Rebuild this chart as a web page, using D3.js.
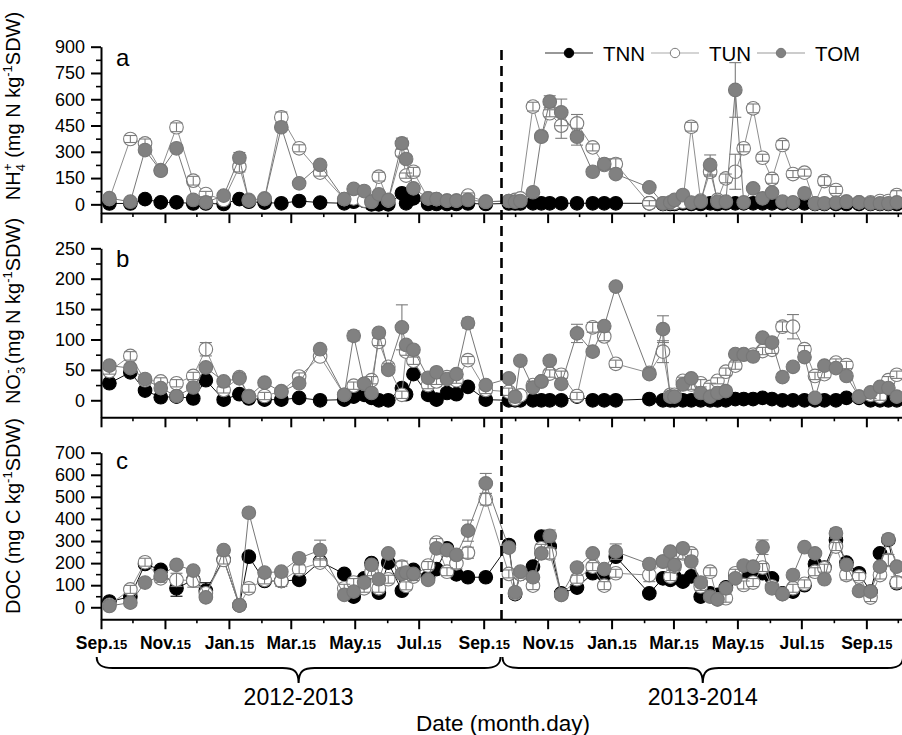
<!DOCTYPE html>
<html><head><meta charset="utf-8">
<script src="https://cdn.jsdelivr.net/npm/d3@7"></script>
<style>
body{margin:0;background:#fff}
svg{display:block}
text{font-family:"Liberation Sans",Arial,sans-serif;fill:#000}
</style></head><body>
<svg id="chart" width="902" height="735"></svg>
<script>
// ---------------- DATA ----------------
const sampleDates = [
"2012-09-23","2012-10-13","2012-10-27","2012-11-11","2012-11-26","2012-12-12","2012-12-24","2013-01-10","2013-01-25","2013-02-03","2013-02-18","2013-03-06","2013-03-23","2013-04-12","2013-05-05","2013-05-14","2013-05-24","2013-05-31","2013-06-07","2013-06-16","2013-06-29","2013-07-03","2013-07-10","2013-07-24","2013-08-01","2013-08-11","2013-08-20","2013-08-31","2013-09-17",
"2013-10-09","2013-10-15","2013-10-20","2013-11-01","2013-11-09","2013-11-17","2013-11-28","2013-12-13","2013-12-28","2014-01-08","2014-01-19","2014-02-20","2014-03-05","2014-03-12","2014-03-16","2014-03-24","2014-04-01","2014-04-10","2014-04-19","2014-04-26","2014-05-04","2014-05-13","2014-05-21","2014-05-30","2014-06-08","2014-06-17","2014-06-27","2014-07-07","2014-07-18","2014-07-28","2014-08-06","2014-08-17","2014-08-27","2014-09-08","2014-09-19","2014-09-28","2014-10-06","2014-10-14"];

const seriesNames = ["TNN","TUN","TOM"];

// (a) NH4+ (mg N kg-1 SDW)
const nh4TNN = [5,5,30,11,11,5,5,2,30,15,10,6,19,10,6,15,20,0,0,0,63,6,34,2,2,2,2,5,2,
  5,5,5,6,6,6,6,6,6,6,6,6,2,2,2,6,2,2,6,2,6,6,6,6,6,6,6,6,6,2,2,2,2,2,2,2,2,2];
const nh4TUN = [30,373,348,195,440,135,59,25,215,25,34,497,320,181,30,34,21,15,158,21,295,164,186,34,30,21,21,50,15,
  19,25,34,558,390,520,449,462,325,225,230,6,6,8,8,15,443,21,186,25,148,186,320,548,266,145,339,173,181,6,133,82,15,11,11,19,19,53];
const nh4TOM = [35,15,310,192,320,25,11,50,266,21,30,440,120,225,30,88,76,15,57,25,348,259,91,34,30,21,21,25,15,
  19,15,19,69,386,586,525,386,186,230,173,97,6,11,25,53,10,15,225,15,15,653,11,91,34,67,15,11,63,6,6,10,15,11,6,6,6,11];
const nh4ErrTNN = [];
const nh4ErrTUN = [[1,20],[2,25],[4,25],[5,25],[6,15],[8,30],[11,30],[12,20],[13,20],[18,25],[20,20],[21,15],[22,25],[27,15],[32,25],[33,20],[34,20],[35,72],[36,51],[37,20],[38,25],[39,30],[40,15],[45,25],[47,25],[49,25],[50,100],[51,20],[52,25],[53,20],[54,25],[55,25],[56,20],[57,20],[59,25],[60,20],[65,15],[66,25]];
const nh4ErrTOM = [[8,30],[20,30],[21,20],[33,20],[34,34],[35,76],[36,48],[38,30],[47,57],[50,156]];

// (b) NO3- (mg N kg-1 SDW)
const no3TNN = [28,46,16,5,6,3,33,1,10,3,1,1,4,0,1,6,9,4,0,0,20,10,43,9,1,12,10,22,1,
  0,0,0,0,0,0,0,6,0,0,0,2,0,0,0,0,0,0,0,0,0,2,2,2,4,2,0,0,0,0,0,0,4,4,0,0,0,0];
const no3TUN = [48,73,33,31,28,40,84,17,38,7,7,15,39,72,9,24,27,33,96,55,9,80,65,25,31,38,33,66,17,
  14,2,8,25,31,44,42,7,120,105,60,45,80,9,9,32,26,28,22,32,47,57,76,75,81,83,121,121,84,40,43,62,58,6,9,6,33,42];
const no3TOM = [57,53,35,20,7,21,54,31,36,6,29,14,28,84,9,106,27,12,111,50,120,91,83,37,46,35,43,127,25,
  36,6,65,21,31,65,27,110,80,122,187,43,117,6,6,26,36,12,6,12,15,76,75,72,103,95,38,55,71,4,57,53,40,6,13,22,20,6];
const no3ErrTNN = [];
const no3ErrTUN = [[0,5],[1,7],[2,4],[3,6],[4,6],[5,6],[6,11],[7,5],[8,6],[10,6],[11,6],[12,6],[15,6],[16,6],[17,6],[18,6],[19,6],[20,6],[21,6],[22,6],[23,6],[24,5],[25,5],[26,5],[27,6],[28,6],[29,6],[30,6],[32,6],[33,6],[34,6],[35,6],[36,6],[37,8],[38,7],[39,6],[40,6],[41,18],[44,6],[45,8],[46,6],[47,6],[48,5],[49,6],[50,6],[51,5],[52,5],[53,6],[54,6],[55,8],[56,20],[57,6],[58,6],[59,6],[60,6],[61,6],[62,5],[63,6],[64,6],[65,6],[66,6]];
const no3ErrTOM = [[15,8],[20,37],[27,8],[36,15],[41,22]];

// (c) DOC (mg C kg-1 SDW)
const docTNN = [26,48,196,169,86,124,75,216,9,229,119,119,124,207,151,48,131,200,66,202,75,127,169,136,173,267,149,136,136,
  282,60,151,184,320,275,63,89,154,146,229,63,131,124,139,116,140,48,63,56,90,139,139,146,154,131,63,71,100,196,180,305,202,154,71,244,305,109];
const docTUN = [11,81,204,131,124,121,63,214,9,86,124,119,172,202,86,112,86,161,86,127,184,97,139,189,293,161,199,247,489,
  151,63,150,98,267,244,56,127,184,98,154,146,207,139,184,244,244,94,161,36,41,154,101,112,180,94,60,86,106,161,177,275,146,139,44,146,214,113];
const docTOM = [6,21,112,142,192,166,45,259,9,428,157,161,222,259,56,71,112,192,127,244,151,157,151,124,267,259,237,347,561,
  270,68,161,136,244,323,56,180,244,173,252,196,207,252,192,267,207,112,48,36,86,131,189,184,272,86,60,146,272,244,127,335,192,74,71,184,308,184];
const docErrTNN = [[4,36],[6,36],[19,15]];
const docErrTUN = [[1,18],[2,18],[3,18],[4,30],[5,30],[7,18],[9,18],[10,18],[11,25],[12,20],[13,18],[14,18],[15,18],[16,18],[17,18],[18,18],[19,18],[20,25],[21,18],[22,18],[23,18],[24,18],[25,18],[26,25],[27,25],[28,26],[29,18],[31,18],[32,18],[33,18],[34,25],[35,18],[36,18],[37,18],[38,18],[39,18],[40,30],[41,18],[42,18],[43,18],[44,25],[45,18],[46,18],[47,18],[48,18],[49,18],[50,18],[51,18],[52,18],[53,18],[54,18],[55,18],[56,18],[57,18],[58,18],[59,18],[60,18],[61,22],[62,18],[63,18],[64,18],[65,25],[66,25]];
const docErrTOM = [[9,15],[12,18],[13,45],[27,48],[28,45],[34,27],[39,35],[53,33],[60,22],[65,22]];

// axis ticks
const xTickDates = ["2012-09-15","2012-11-15","2013-01-15","2013-03-15","2013-05-15","2013-07-15","2013-09-15","2013-11-15","2014-01-15","2014-03-15","2014-05-15","2014-07-15","2014-09-15"];
const xTickMonths = ["Sep.","Nov.","Jan.","Mar.","May.","Jul.","Sep.","Nov.","Jan.","Mar.","May.","Jul.","Sep."];
const xTickDay = "15";
const xMinorDates = ["2012-10-15","2012-12-15","2013-02-15","2013-04-15","2013-06-15","2013-08-15","2013-10-15","2013-12-15","2014-02-15","2014-04-15","2014-06-15","2014-08-15","2014-10-15"];
const nh4Ticks = [0,150,300,450,600,750,900];
const nh4Minor = [75,225,375,525,675,825];
const no3Ticks = [0,50,100,150,200,250];
const no3Minor = [25,75,125,175,225];
const docTicks = [0,100,200,300,400,500,600,700];
const docMinor = [50,150,250,350,450,550,650];
const seasonLabels = ["2012-2013","2013-2014"];
const seasonSplit = "2013-10-02";
const seasonStart = "2012-09-09";
const seasonEnd = "2014-10-20";

// ---------------- DRAW ----------------
const svg = d3.select("#chart");
const parse = d3.utcParse("%Y-%m-%d");
const dts = sampleDates.map(parse);

const x = d3.scaleUtc()
  .domain([new Date(Date.UTC(2012,8,15)), new Date(Date.UTC(2014,9,19))])
  .range([101, 902]);

const style = {
  TNN:{fill:"#000", stroke:"#000", line:"#111", err:"#000"},
  TUN:{fill:"#fff", stroke:"#7c7c7c", line:"#8e8e8e", err:"#7c7c7c"},
  TOM:{fill:"#818181", stroke:"#777", line:"#777", err:"#7c7c7c"}
};
const R = 6.8;

const panels = [
  {letter:"a", domain:[-50,900], range:[213.1,46.7], major:nh4Ticks, minor:nh4Minor,
   vals:{TNN:nh4TNN,TUN:nh4TUN,TOM:nh4TOM}, errs:{TNN:nh4ErrTNN,TUN:nh4ErrTUN,TOM:nh4ErrTOM},
   title:[["NH",20,0,0],["4",13,0,5],["+",13,-7,-13],[" (mg N kg",20,0,8],["-1",13,0,-8],["SDW)",20,0,8]], titleMid:106, letterY:66},
  {letter:"b", domain:[-28,250], range:[417.3,248.3], major:no3Ticks, minor:no3Minor,
   vals:{TNN:no3TNN,TUN:no3TUN,TOM:no3TOM}, errs:{TNN:no3ErrTNN,TUN:no3ErrTUN,TOM:no3ErrTOM},
   title:[["NO",20,0,0],["3",13,0,5],["-",13,-7,-13],[" (mg N kg",20,0,8],["-1",13,0,-8],["SDW)",20,0,8]], titleMid:311, letterY:267},
  {letter:"c", domain:[-54,700], range:[619.2,452.7], major:docTicks, minor:docMinor,
   vals:{TNN:docTNN,TUN:docTUN,TOM:docTOM}, errs:{TNN:docErrTNN,TUN:docErrTUN,TOM:docErrTOM},
   title:[["DOC (mg C kg",20,0,0],["-1",13,0,-8],["SDW)",20,0,8]], titleMid:516, letterY:469}
];

function styleAxis(g, w){
  g.select(".domain").attr("stroke","#000").attr("stroke-width",2);
  g.selectAll(".tick line").attr("stroke","#000").attr("stroke-width",w);
}

panels.forEach((p, pi) => {
  const y = d3.scaleLinear().domain(p.domain).range(p.range);
  const g = svg.append("g");
  const y0 = p.range[0];

  // y axis
  const ya = g.append("g").attr("transform","translate(101,0)")
    .call(d3.axisLeft(y).tickValues(p.major).tickSize(10).tickSizeOuter(0).tickPadding(6));
  styleAxis(ya, 2);
  ya.selectAll(".tick text").attr("font-size",18).attr("font-family","'Liberation Sans',Arial,sans-serif").attr("fill","#000");
  const ym = g.append("g").attr("transform","translate(101,0)")
    .call(d3.axisLeft(y).tickValues(p.minor).tickSize(5).tickFormat(""));
  ym.select(".domain").remove();
  ym.selectAll(".tick line").attr("stroke","#000").attr("stroke-width",1.6);

  // x axis
  const xa = g.append("g").attr("transform",`translate(0,${y0})`)
    .call(d3.axisBottom(x).tickValues(xTickDates.map(parse)).tickSize(10).tickSizeOuter(0)
      .tickFormat(pi === 2 ? ((d,i)=>xTickMonths[i]) : ""));
  styleAxis(xa, 2);
  const xm = g.append("g").attr("transform",`translate(0,${y0})`)
    .call(d3.axisBottom(x).tickValues(xMinorDates.map(parse)).tickSize(4).tickFormat(""));
  xm.select(".domain").remove();
  xm.selectAll(".tick line").attr("stroke","#000").attr("stroke-width",1.6);
  if (pi === 2) {
    xa.selectAll(".tick text").each(function(d,i){
      const t = d3.select(this);
      t.text(null).attr("y",30).attr("dy",null).attr("font-weight","bold")
        .attr("font-family","'Liberation Sans',Arial,sans-serif").attr("fill","#000");
      t.append("tspan").attr("font-size",17.5).text(xTickMonths[i]);
      t.append("tspan").attr("font-size",13).text(xTickDay);
    });
  }

  // panel letter
  g.append("text").attr("x",116).attr("y",p.letterY).attr("font-size",24).text(p.letter);

  // y title
  const tt = g.append("text").attr("transform",`translate(20,${p.titleMid}) rotate(-90)`)
    .attr("text-anchor","middle");
  p.title.forEach(([s,fs,dx,dy]) => {
    tt.append("tspan").attr("font-size",fs).attr("dx",dx).attr("dy",dy).text(s);
  });

  // series
  const line = d3.line().x((d,i)=>x(dts[i])).y(d=>y(d));
  const drawErr = (name) => {
    const vals = p.vals[name];
    const eg = g.append("g").attr("stroke",style[name].err).attr("stroke-width",1.1).attr("fill","none");
    p.errs[name].forEach(([i,e]) => {
      const cx = x(dts[i]), v = vals[i];
      const yt = y(v+e), yb = y(v-e);
      eg.append("line").attr("x1",cx).attr("x2",cx).attr("y1",yt).attr("y2",yb);
      eg.append("line").attr("x1",cx-6).attr("x2",cx+6).attr("y1",yt).attr("y2",yt);
      eg.append("line").attr("x1",cx-6).attr("x2",cx+6).attr("y1",yb).attr("y2",yb);
    });
  };
  seriesNames.forEach(name => {
    const vals = p.vals[name];
    g.append("path").datum(vals).attr("d",line).attr("fill","none")
      .attr("stroke",style[name].line).attr("stroke-width",1);
    if (name !== "TUN") drawErr(name);
    g.append("g").selectAll("circle").data(vals).join("circle")
      .attr("cx",(d,i)=>x(dts[i])).attr("cy",d=>y(d)).attr("r",R)
      .attr("fill",style[name].fill).attr("stroke",style[name].stroke).attr("stroke-width",1.1);
    if (name === "TUN") drawErr(name);
  });
});

// season divider
svg.append("line").attr("x1",x(parse(seasonSplit))).attr("x2",x(parse(seasonSplit)))
  .attr("y1",50).attr("y2",619).attr("stroke","#000").attr("stroke-width",2.6)
  .attr("stroke-dasharray","10,6");

// legend
const legX = [545,651,757];
const legLine = {TNN:"#333", TUN:"#aaa", TOM:"#999"};
seriesNames.forEach((name,i) => {
  const lg = svg.append("g").attr("transform",`translate(${legX[i]},53)`);
  lg.append("line").attr("x1",0).attr("x2",48).attr("y1",0).attr("y2",0).attr("stroke",legLine[name]).attr("stroke-width",1.2);
  lg.append("circle").attr("cx",24).attr("cy",0).attr("r",4.7)
    .attr("fill",style[name].fill).attr("stroke",style[name].stroke).attr("stroke-width",1);
  lg.append("text").attr("x",58).attr("y",7.5).attr("font-size",20.5).text(name);
});

// braces
function brace(x1, x2){
  const xm = (x1+x2)/2, yt = 657, yh = 668, yp = 683;
  return `M${x1},${yt} C${x1},${yh-3} ${x1+5},${yh} ${x1+16},${yh} L${xm-16},${yh} C${xm-5},${yh} ${xm},${yh+3} ${xm},${yp} C${xm},${yh+3} ${xm+5},${yh} ${xm+16},${yh} L${x2-16},${yh} C${x2-5},${yh} ${x2},${yh-3} ${x2},${yt}`;
}
const xs = x(parse(seasonStart)), xsp = x(parse(seasonSplit)), xe = x(parse(seasonEnd));
const spans = [[xs+2, xsp-1],[xsp+1, xe]];
spans.forEach((s,i) => {
  svg.append("path").attr("d",brace(s[0],s[1])).attr("fill","none").attr("stroke","#000").attr("stroke-width",2);
  svg.append("text").attr("x",(s[0]+s[1])/2).attr("y",705).attr("text-anchor","middle")
    .attr("font-size",23).text(seasonLabels[i]);
});
svg.append("text").attr("x",503).attr("y",731).attr("text-anchor","middle").attr("font-size",22.5).text("Date (month.day)");
</script>
</body></html>
